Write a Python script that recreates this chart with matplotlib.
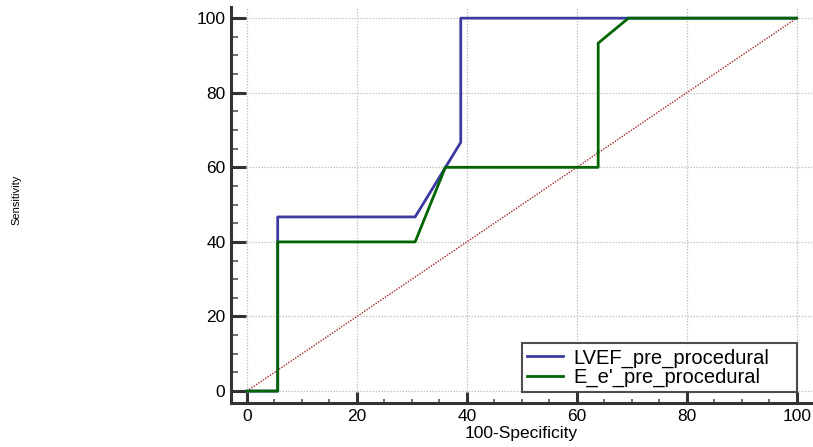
import numpy as np
import matplotlib.pyplot as plt
from matplotlib.ticker import MultipleLocator

# ROC coordinates (100-Specificity, Sensitivity)
lvef_x = [0, 5.6, 5.6, 30.6, 38.9, 38.9, 100]
lvef_y = [0, 0, 46.7, 46.7, 66.7, 100, 100]

ee_x = [0, 5.6, 5.6, 30.6, 36.1, 63.9, 63.9, 69.4, 100]
ee_y = [0, 0, 40.0, 40.0, 60.0, 60.0, 93.3, 100, 100]

ref_line = [0, 100]
ticks = [0, 20, 40, 60, 80, 100]

plt.rcParams['font.family'] = ['Liberation Sans', 'DejaVu Sans']

fig = plt.figure(figsize=(8.13, 4.47), dpi=100)
ax = fig.add_axes([0.2841, 0.0984, 0.7147, 0.886])

ax.plot(ref_line, ref_line, color='#a52a2a', lw=1.0, linestyle=(0, (1, 1)), zorder=2)
ax.plot(lvef_x, lvef_y, color='#3a3aa0', lw=2.0, label='LVEF_pre_procedural', zorder=3)
ax.plot(ee_x, ee_y, color='#006400', lw=2.0, label="E_e'_pre_procedural", zorder=4)

ax.set_xlim(-2.9, 102.8)
ax.set_ylim(-3.2, 103)
ax.set_xticks(ticks)
ax.set_yticks(ticks)
ax.xaxis.set_minor_locator(MultipleLocator(5))
ax.yaxis.set_minor_locator(MultipleLocator(5))
ax.grid(True, which='major', color='#c4c4c4', linestyle=(0, (1.2, 1.2)), lw=0.9)

for s in ['top', 'right']:
    ax.spines[s].set_visible(False)
for s in ['left', 'bottom']:
    ax.spines[s].set_linewidth(2.2)
    ax.spines[s].set_color('#333333')

ax.tick_params(axis='both', which='major', direction='in', length=11, width=2.2,
               color='#333333', labelsize=12.5, pad=4)
ax.tick_params(axis='both', which='minor', direction='in', length=5, width=1.2,
               color='#555555')
ax.tick_params(axis='x', which='major', length=8)
ax.tick_params(axis='x', which='minor', length=3)

ax.set_xlabel('100-Specificity', fontsize=12.5, labelpad=2)
fig.text(0.02, 0.553, 'Sensitivity', rotation=90, fontsize=8, ha='center', va='center')

leg = ax.legend(loc='lower left', bbox_to_anchor=(0.501, 0.028, 0.473, 0.111),
                mode='expand', fontsize=14.5,
                frameon=True, fancybox=False, edgecolor='#222222', borderpad=0.25,
                handlelength=1.8, handletextpad=0.5, labelspacing=0.0,
                borderaxespad=0)
leg.get_frame().set_linewidth(1.5)

fig.savefig('out.png', dpi=100)
